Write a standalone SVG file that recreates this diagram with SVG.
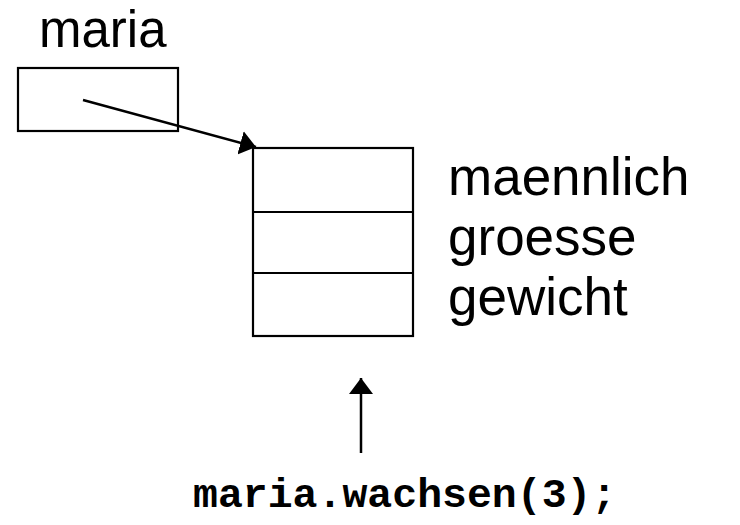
<svg xmlns="http://www.w3.org/2000/svg" width="740" height="525" viewBox="0 0 740 525">
  <style>
    .box { fill: #ffffff; stroke: #000000; stroke-width: 2.2; }
    .lbl { font-family: "Liberation Sans", Arial, sans-serif; font-size: 53px; fill: #000000; }
    .code { font-family: "Liberation Mono", "Courier New", monospace; font-weight: bold; font-size: 41.5px; fill: #000000; }
    .conn { stroke: #000000; stroke-width: 2.5; fill: none; marker-end: url(#head); }
  </style>
  <defs>
    <marker id="head" viewBox="0 0 16 24" refX="16" refY="12" markerWidth="16" markerHeight="24" markerUnits="userSpaceOnUse" orient="auto">
      <path d="M0,0 L16,12 L0,24 z" fill="#000000"/>
    </marker>
  </defs>
  <g id="maria">
    <text class="lbl" x="39" y="47" style="font-size:51px">maria</text>
    <rect class="box" x="18" y="68" width="160" height="63"/>
  </g>
  <g id="object">
    <rect class="box" x="253" y="148" width="160" height="188"/>
    <line class="box" x1="253" y1="212" x2="413" y2="212"/>
    <line class="box" x1="253" y1="273" x2="413" y2="273"/>
    <text class="lbl" x="448" y="195">maennlich</text>
    <text class="lbl" x="448" y="255">groesse</text>
    <text class="lbl" x="448" y="315">gewicht</text>
  </g>
  <g id="call">
    <text class="code" x="193" y="507">maria.wachsen(3);</text>
  </g>
  <g id="connectors">
    <line class="conn" x1="83" y1="100" x2="256" y2="147"/>
    <line class="conn" x1="361" y1="453" x2="361" y2="378"/>
  </g>
</svg>
